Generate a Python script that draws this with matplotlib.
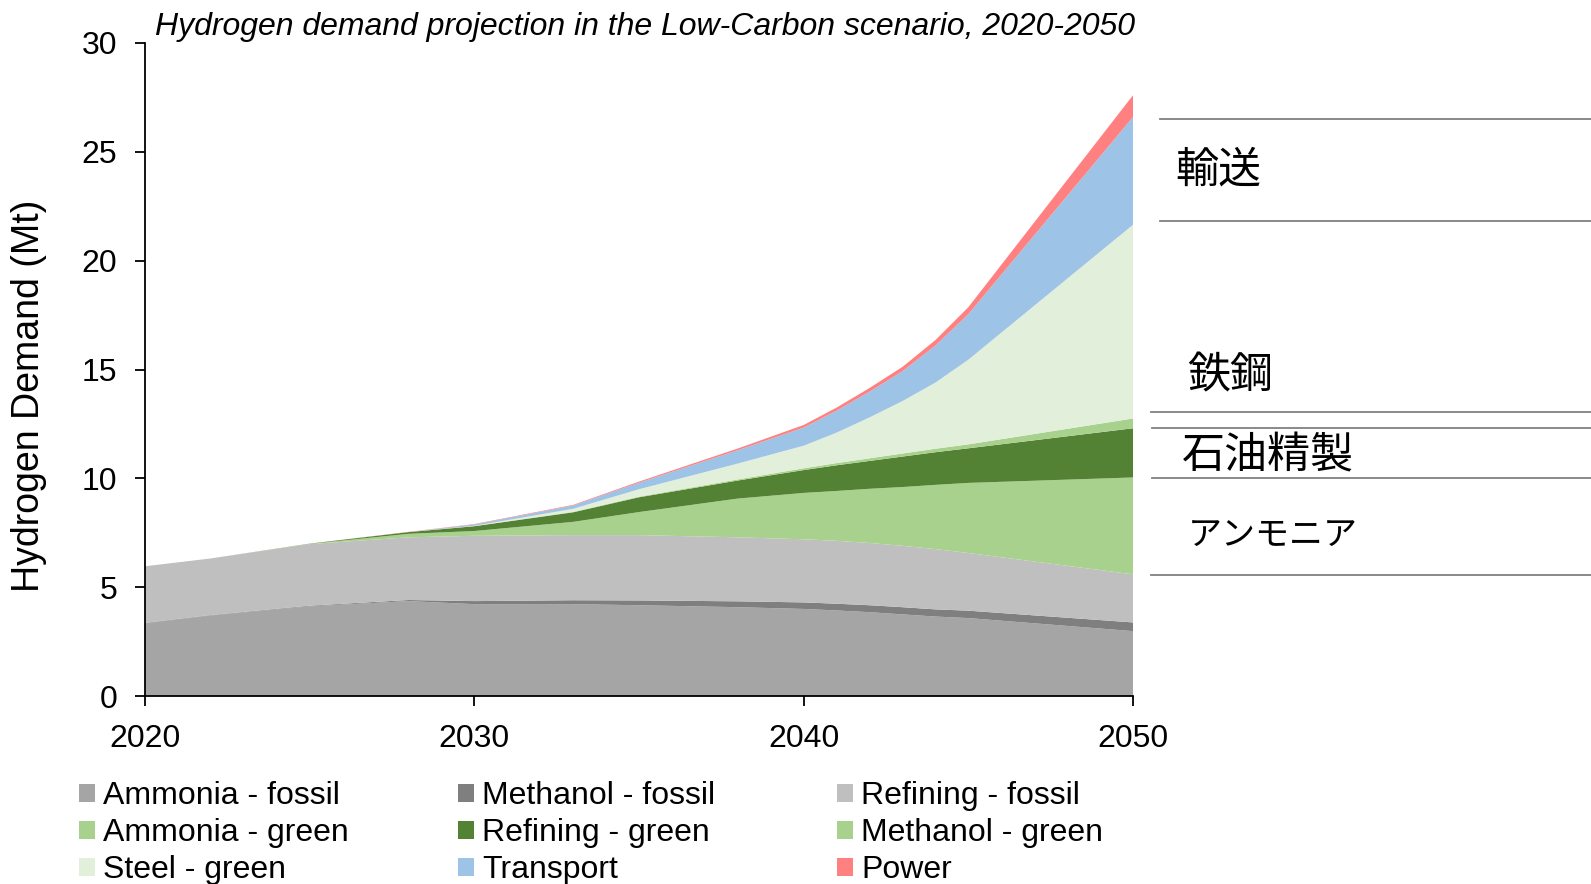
import matplotlib
matplotlib.use("Agg")
import matplotlib.pyplot as plt
from matplotlib.lines import Line2D

plt.rcParams['font.family'] = ['Liberation Sans', 'Noto Sans CJK JP', 'DejaVu Sans']

years = [2020, 2022, 2025, 2028, 2030, 2033, 2035, 2038, 2040, 2041, 2042, 2043, 2044, 2045, 2050]

ammonia_fossil = [3.34, 3.70, 4.12, 4.36, 4.22, 4.22, 4.17, 4.08, 4.00, 3.93, 3.85, 3.75, 3.65, 3.58, 2.98]
methanol_fossil = [0.02, 0.02, 0.03, 0.05, 0.14, 0.18, 0.22, 0.27, 0.30, 0.31, 0.32, 0.33, 0.33, 0.34, 0.40]
refining_fossil = [2.60, 2.60, 2.83, 2.88, 3.00, 2.99, 3.00, 2.94, 2.90, 2.89, 2.86, 2.82, 2.77, 2.65, 2.21]
ammonia_green = [0.00, 0.00, 0.01, 0.16, 0.22, 0.61, 1.06, 1.78, 2.13, 2.29, 2.49, 2.70, 2.95, 3.22, 4.45]
refining_green = [0.00, 0.00, 0.01, 0.08, 0.22, 0.44, 0.68, 0.83, 1.05, 1.18, 1.28, 1.40, 1.50, 1.59, 2.26]
methanol_green = [0.00, 0.00, 0.00, 0.00, 0.01, 0.02, 0.03, 0.05, 0.08, 0.10, 0.12, 0.14, 0.16, 0.18, 0.45]
steel_green = [0.00, 0.00, 0.00, 0.00, 0.01, 0.14, 0.34, 0.73, 1.04, 1.40, 1.88, 2.41, 3.04, 3.89, 8.90]
transport = [0.00, 0.00, 0.00, 0.00, 0.06, 0.15, 0.30, 0.61, 0.83, 1.01, 1.18, 1.37, 1.70, 2.09, 4.95]
power = [0.00, 0.00, 0.00, 0.01, 0.02, 0.03, 0.05, 0.08, 0.12, 0.14, 0.17, 0.20, 0.25, 0.32, 1.00]

labels = ["Ammonia - fossil", "Methanol - fossil", "Refining - fossil",
          "Ammonia - green", "Refining - green", "Methanol - green",
          "Steel - green", "Transport", "Power"]
colors = ["#A5A5A5", "#7F7F7F", "#BFBFBF",
          "#A9D18E", "#548235", "#A9D18E",
          "#E2EFDA", "#9DC3E6", "#FF8080"]

# right-hand sector brackets (Japanese labels)
sector_names = ["輸送", "鉄鋼", "石油精製", "アンモニア"]

W, H = 1591, 884
fig = plt.figure(figsize=(W / 100, H / 100), dpi=100)
ax = fig.add_axes([145 / W, 1 - 696 / H, 988 / W, 653 / H])

polys = ax.stackplot(years, ammonia_fossil, methanol_fossil, refining_fossil,
                     ammonia_green, refining_green, methanol_green,
                     steel_green, transport, power,
                     colors=colors, labels=labels, linewidth=0)

ax.set_xlim(2020, 2050)
ax.set_ylim(0, 30)
ax.set_xticks([2020, 2030, 2040, 2050])
ax.set_yticks([0, 5, 10, 15, 20, 25, 30])
ax.spines['top'].set_visible(False)
ax.spines['right'].set_visible(False)
for s in ['left', 'bottom']:
    ax.spines[s].set_linewidth(1.3)
ax.tick_params(axis='y', length=7, width=1.3, labelsize=23, pad=13)
ax.tick_params(axis='x', length=7, width=1.3, labelsize=23, pad=13)

ax.set_ylabel("Hydrogen Demand (Mt)", fontsize=27)
ax.yaxis.set_label_coords(-0.099, 0.46)

fig.text(155 / W, 1 - 27 / H, "Hydrogen demand projection in the Low-Carbon scenario, 2020-2050",
         fontsize=23, style='italic', ha='left', va='center')

# legend, row-wise in three columns
col_x = [79, 458, 837]
for c in range(3):
    idx = [c, c + 3, c + 6]
    fig.legend([polys[i] for i in idx], [labels[i] for i in idx],
               loc='upper left', bbox_to_anchor=(col_x[c] / W, 1 - 781 / H),
               frameon=False, fontsize=23, handlelength=0.5, handleheight=0.5,
               handletextpad=0.25, labelspacing=0.22, borderpad=0, borderaxespad=0)

# bracket lines on the right
line_y = [119, 221, 412, 428, 478, 575]
line_x0 = [1160, 1160, 1151, 1152, 1152, 1151]
for y, x0 in zip(line_y, line_x0):
    fig.add_artist(Line2D([x0 / W, 1.0], [1 - y / H, 1 - y / H],
                          transform=fig.transFigure, color="#808080", linewidth=1.3))

name_pos = [(1175, 171), (1187, 376), (1182, 456), (1188, 535)]
name_size = [31, 31, 31, 24.5]
for name, (x, y), fs in zip(sector_names, name_pos, name_size):
    fig.text(x / W, 1 - y / H, name, fontsize=fs, ha='left', va='center',
             family=['Noto Sans CJK JP', 'DejaVu Sans'])

fig.savefig("out.png", dpi=100)
